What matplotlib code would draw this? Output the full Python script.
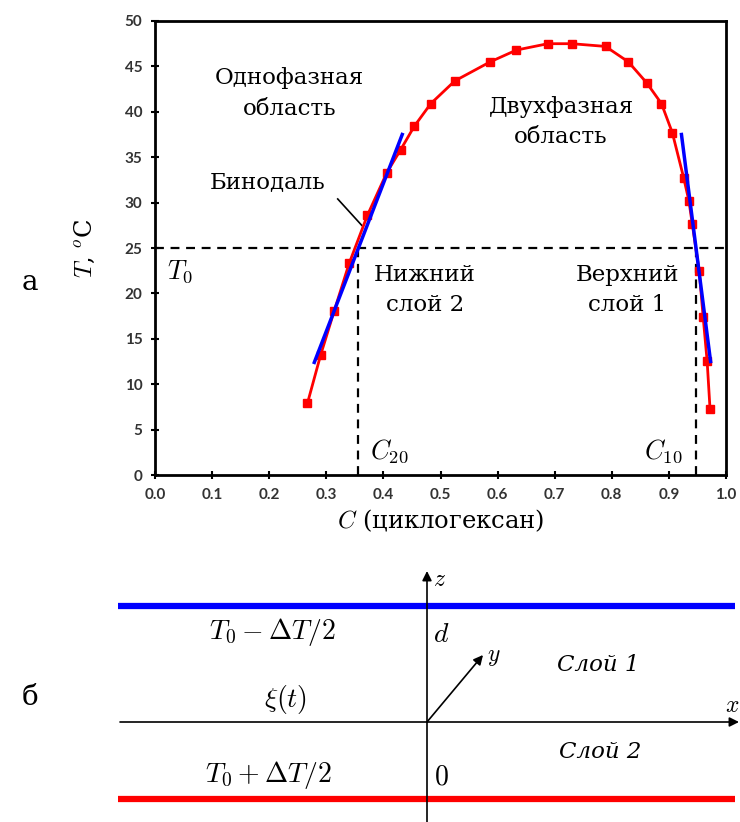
import numpy as np
import matplotlib.pyplot as plt

plt.rcParams['mathtext.fontset'] = 'cm'
plt.rcParams['font.family'] = ['DejaVu Serif']

# binodal points: C (cyclohexane fraction), T in deg C
conc = [0.267, 0.290, 0.314, 0.340, 0.372, 0.406, 0.430, 0.454, 0.483, 0.525,
        0.587, 0.633, 0.688, 0.730, 0.789, 0.829, 0.861, 0.887, 0.906, 0.926,
        0.935, 0.941, 0.953, 0.960, 0.967, 0.972]
temp = [7.9, 13.2, 18.1, 23.3, 28.6, 33.3, 35.8, 38.4, 40.9, 43.4,
        45.5, 46.8, 47.5, 47.5, 47.2, 45.5, 43.2, 40.9, 37.7, 32.7,
        30.2, 27.6, 22.5, 17.4, 12.5, 7.3]

# tangent fits near T0
fit_left_c = [0.279, 0.433]
fit_left_t = [12.4, 37.5]
fit_right_c = [0.922, 0.973]
fit_right_t = [37.5, 12.5]

T0 = 25
C20 = 0.356
C10 = 0.947

W, H = 740, 822
fig = plt.figure(figsize=(W / 100, H / 100), dpi=100)

ax = fig.add_axes([155 / W, 1 - 475 / H, 571 / W, 454 / H])
ax.plot(conc, temp, color='red', lw=2, marker='s', ms=6, zorder=3)
ax.plot(fit_left_c, fit_left_t, color='blue', lw=2.5, zorder=4)
ax.plot(fit_right_c, fit_right_t, color='blue', lw=2.5, zorder=4)
ax.axhline(T0, color='black', lw=1.6, ls=(0, (4, 3)), zorder=2)
ax.plot([C20, C20], [0, T0], color='black', lw=1.6, ls=(0, (4, 3)), zorder=2)
ax.plot([C10, C10], [0, T0], color='black', lw=1.6, ls=(0, (4, 3)), zorder=2)
ax.plot([0.320, 0.362], [30.4, 27.5], color='black', lw=1.2, zorder=2)

ax.set_xlim(0, 1)
ax.set_ylim(0, 50)
ax.set_xticks(np.arange(0, 1.01, 0.1))
ax.set_yticks(np.arange(0, 51, 5))
tick_font = dict(family='Lato', weight='bold', size=11, color='#333333')
ax.set_xticklabels([f'{v:.1f}' for v in np.arange(0, 1.01, 0.1)], fontdict=tick_font)
ax.set_yticklabels([str(v) for v in range(0, 51, 5)], fontdict=tick_font)
ax.tick_params(direction='inout', length=6, width=1.5, pad=6)
for s in ax.spines.values():
    s.set_linewidth(2)

ax.set_xlabel('$C$ (циклогексан)', fontsize=17.5, labelpad=4)
ax.set_ylabel('$T$, $^o$C', fontsize=17.5, labelpad=20)

fs = 16.5
ax.text(0.236, 42.0, 'Однофазная\nобласть', ha='center', va='center', fontsize=fs,
        linespacing=1.5)
ax.text(0.198, 32.3, 'Бинодаль', ha='center', va='center', fontsize=fs)
ax.text(0.711, 38.9, 'Двухфазная\nобласть', ha='center', va='center', fontsize=fs,
        linespacing=1.5)
ax.text(0.473, 20.4, 'Нижний\nслой 2', ha='center', va='center', fontsize=fs,
        linespacing=1.5)
ax.text(0.827, 20.4, 'Верхний\nслой 1', ha='center', va='center', fontsize=fs,
        linespacing=1.5)
ax.text(0.044, 22.4, '$T_0$', ha='center', va='center', fontsize=19)
ax.text(0.41, 2.6, '$C_{20}$', ha='center', va='center', fontsize=19)
ax.text(0.89, 2.6, '$C_{10}$', ha='center', va='center', fontsize=19)

fig.text(30 / W, 1 - 283 / H, 'а', ha='center', va='center', fontsize=20)
fig.text(30 / W, 1 - 697 / H, 'б', ha='center', va='center', fontsize=20)

# schematic of the two layers, pixel coordinates of the figure
sk = fig.add_axes([0, 0, 1, 1 - 560 / H])
sk.set_xlim(0, W)
sk.set_ylim(H, 560)
sk.axis('off')
arrow = dict(arrowstyle='-|>', color='black', lw=1.2, mutation_scale=14,
             shrinkA=0, shrinkB=0)
plate_x = [118, 735]
sk.plot(plate_x, [606, 606], color='blue', lw=4.5, solid_capstyle='butt')
sk.plot(plate_x, [799, 799], color='red', lw=4.5, solid_capstyle='butt')
sk.annotate('', xy=(427, 571), xytext=(427, 822), arrowprops=arrow,
            annotation_clip=False)
sk.annotate('', xy=(739, 722), xytext=(120, 722), arrowprops=arrow,
            annotation_clip=False)
sk.annotate('', xy=(483, 655), xytext=(427, 722), arrowprops=arrow,
            annotation_clip=False)
sk.text(440, 580, '$z$', ha='center', va='center', fontsize=17)
sk.text(732, 705, '$x$', ha='center', va='center', fontsize=17)
sk.text(494, 656, '$y$', ha='center', va='center', fontsize=17)
sk.text(272, 632, r'$T_0-\Delta T/2$', ha='center', va='center', fontsize=20)
sk.text(268, 775, r'$T_0+\Delta T/2$', ha='center', va='center', fontsize=20)
sk.text(286, 699, r'$\xi(t)$', ha='center', va='center', fontsize=20)
sk.text(441, 634, '$d$', ha='center', va='center', fontsize=20)
sk.text(441, 777, '$0$', ha='center', va='center', fontsize=20)
sk.text(598, 665, 'Слой 1', ha='center', va='center', fontsize=16.5, style='italic')
sk.text(600, 752, 'Слой 2', ha='center', va='center', fontsize=16.5, style='italic')

fig.savefig('out.png', dpi=100)
